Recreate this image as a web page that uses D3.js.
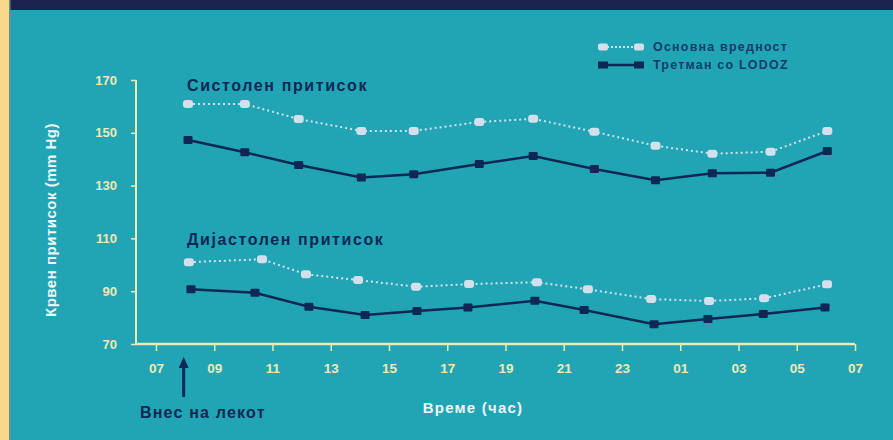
<!DOCTYPE html>
<html lang="mk">
<head>
  <meta charset="UTF-8" />
  <title>Крвен притисок</title>
  <script src="https://d3js.org/d3.v7.min.js"></script>
  <style>
    body {
      margin: 0;
      padding: 0;
      background-color: #21a5b5;
    }
    svg {
      display: block;
    }
  </style>
</head>
<body>

<svg id="chart" width="893" height="440"></svg>

<script>
  // часови (7 = 07:00, 31 = 07:00 следниот ден)
  const hourTicks = [7, 9, 11, 13, 15, 17, 19, 21, 23, 25, 27, 29, 31];
  const yTicks = [70, 90, 110, 130, 150, 170];

  const sysHours = [8.1, 10.05, 11.9, 14.05, 15.85, 18.1, 19.95, 22.05, 24.15, 26.1, 28.1, 30.05];
  const sysBase = [160.9, 160.9, 155.2, 150.7, 150.7, 154.1, 155.3, 150.4, 145.1, 142.1, 142.8, 150.7];
  const sysLodoz = [147.3, 142.6, 137.8, 133.1, 134.3, 138.2, 141.2, 136.3, 132.0, 134.7, 134.9, 143.1];

  const diaBaseHours = [8.13, 10.64, 12.15, 13.94, 15.93, 17.75, 20.08, 21.83, 24.0, 25.99, 27.88, 30.04];
  const diaBase = [101.0, 102.1, 96.4, 94.2, 91.7, 92.7, 93.4, 90.7, 87.0, 86.3, 87.3, 92.6];
  const diaLodozHours = [8.2, 10.4, 12.25, 14.18, 15.96, 17.71, 20.01, 21.7, 24.1, 25.95, 27.85, 29.97];
  const diaLodoz = [90.7, 89.4, 84.1, 81.0, 82.5, 83.8, 86.4, 82.9, 77.5, 79.5, 81.4, 83.8];

  const doseHour = 7.95;

  const svg = d3.select("#chart");
  const teal = "#21a5b5";
  const navy = "#0e2754";
  const light = "#d3e0ec";
  const axisCol = "#eee9b4";
  const font = "'Liberation Sans', Arial, sans-serif";

  // позадина
  svg.append("rect").attr("width", 893).attr("height", 440).attr("fill", teal);
  svg.append("rect").attr("width", 893).attr("height", 10).attr("fill", "#1b2350");
  svg.append("rect").attr("width", 9).attr("height", 440).attr("fill", "#f8d98c");
  svg.append("rect").attr("x", 9).attr("width", 1.5).attr("height", 440).attr("fill", "#6a8f88");

  const x = d3.scaleLinear().domain([6.3, 31]).range([135.6, 855]);
  const y = d3.scaleLinear().domain([70, 170]).range([344, 80]);

  // y оска
  const yAxis = svg.append("g")
    .attr("transform", "translate(136,0)")
    .call(d3.axisLeft(y).tickValues(yTicks).tickSize(5).tickPadding(14));
  yAxis.select(".domain").attr("stroke", axisCol).attr("stroke-width", 2).attr("d", "M0,80V344");
  yAxis.selectAll(".tick line").attr("stroke", axisCol).attr("stroke-width", 1.5);
  yAxis.selectAll(".tick text")
    .attr("fill", axisCol)
    .style("font-family", font)
    .style("font-size", "13px")
    .style("font-weight", "bold");

  // x оска
  const xAxis = svg.append("g")
    .attr("transform", "translate(0,344)")
    .call(d3.axisBottom(x).tickValues(hourTicks).tickSize(7).tickPadding(12)
      .tickFormat(h => String(h % 24).padStart(2, "0")));
  xAxis.select(".domain").attr("stroke", axisCol).attr("stroke-width", 2.5)
    .attr("d", "M" + x(6.3) + ",0H" + x(31));
  xAxis.selectAll(".tick line").attr("stroke", axisCol).attr("stroke-width", 1.5);
  xAxis.selectAll(".tick text")
    .attr("fill", axisCol)
    .style("font-family", font)
    .style("font-size", "13.5px")
    .style("font-weight", "bold");

  const series = [
    { hours: sysHours, values: sysBase, kind: "base" },
    { hours: sysHours, values: sysLodoz, kind: "lodoz" },
    { hours: diaBaseHours, values: diaBase, kind: "base" },
    { hours: diaLodozHours, values: diaLodoz, kind: "lodoz" }
  ];

  const line = d3.line().x(d => x(d[0])).y(d => y(d[1]));

  series.forEach(s => {
    const pts = s.hours.map((h, i) => [h, s.values[i]]);
    const g = svg.append("g");
    if (s.kind === "base") {
      g.append("path")
        .attr("d", line(pts))
        .attr("fill", "none")
        .attr("stroke", light)
        .attr("stroke-width", 2)
        .attr("stroke-dasharray", "2,3");
      g.selectAll("rect")
        .data(pts)
        .enter().append("rect")
        .attr("x", d => x(d[0]) - 5)
        .attr("y", d => y(d[1]) - 4)
        .attr("width", 10)
        .attr("height", 8)
        .attr("rx", 3)
        .attr("fill", light);
    } else {
      g.append("path")
        .attr("d", line(pts))
        .attr("fill", "none")
        .attr("stroke", navy)
        .attr("stroke-width", 2.5);
      g.selectAll("rect")
        .data(pts)
        .enter().append("rect")
        .attr("x", d => x(d[0]) - 4.5)
        .attr("y", d => y(d[1]) - 4)
        .attr("width", 9)
        .attr("height", 8)
        .attr("rx", 1)
        .attr("fill", navy);
    }
  });

  // наслови на групите
  svg.append("text")
    .attr("x", 187).attr("y", 91)
    .attr("fill", navy)
    .style("font-family", font)
    .style("font-size", "16px")
    .style("font-weight", "bold")
    .style("letter-spacing", "1.6px")
    .text("Систолен притисок");
  svg.append("text")
    .attr("x", 187).attr("y", 245)
    .attr("fill", navy)
    .style("font-family", font)
    .style("font-size", "16px")
    .style("font-weight", "bold")
    .style("letter-spacing", "1.6px")
    .text("Дијастолен притисок");

  // наслови на оските
  svg.append("text")
    .attr("transform", "translate(56,220) rotate(-90)")
    .attr("text-anchor", "middle")
    .attr("fill", "#eef6f8")
    .style("font-family", font)
    .style("font-size", "15px")
    .style("font-weight", "bold")
    .style("letter-spacing", "0.5px")
    .text("Крвен притисок (mm Hg)");
  svg.append("text")
    .attr("x", 473).attr("y", 413)
    .attr("text-anchor", "middle")
    .attr("fill", "#eef6f8")
    .style("font-family", font)
    .style("font-size", "15px")
    .style("font-weight", "bold")
    .style("letter-spacing", "1.2px")
    .text("Време (час)");

  // стрелка за внес на лекот
  const ax = x(doseHour);
  svg.append("line")
    .attr("x1", ax).attr("x2", ax)
    .attr("y1", 366).attr("y2", 397)
    .attr("stroke", navy).attr("stroke-width", 3);
  svg.append("path")
    .attr("d", `M${ax - 5},368L${ax},357L${ax + 5},368Z`)
    .attr("fill", navy);
  svg.append("text")
    .attr("x", 140).attr("y", 418)
    .attr("fill", navy)
    .style("font-family", font)
    .style("font-size", "16px")
    .style("font-weight", "bold")
    .style("letter-spacing", "1.2px")
    .text("Внес на лекот");

  // легенда
  const legend = svg.append("g").attr("transform", "translate(603,0)");
  legend.append("line")
    .attr("x1", 0).attr("x2", 36).attr("y1", 47).attr("y2", 47)
    .attr("stroke", light).attr("stroke-width", 2).attr("stroke-dasharray", "2,2");
  [0, 36].forEach(dx => legend.append("rect")
    .attr("x", dx - 5).attr("y", 43.5).attr("width", 10).attr("height", 7).attr("rx", 2).attr("fill", light));
  legend.append("line")
    .attr("x1", 0).attr("x2", 36).attr("y1", 65).attr("y2", 65)
    .attr("stroke", navy).attr("stroke-width", 2.5);
  [0, 36].forEach(dx => legend.append("rect")
    .attr("x", dx - 5).attr("y", 61.5).attr("width", 10).attr("height", 7).attr("fill", navy));
  legend.append("text")
    .attr("x", 50).attr("y", 51)
    .attr("fill", "#183b6a")
    .style("font-family", font)
    .style("font-size", "12.5px")
    .style("font-weight", "bold")
    .style("letter-spacing", "1.2px")
    .text("Основна вредност");
  legend.append("text")
    .attr("x", 50).attr("y", 69)
    .attr("fill", "#183b6a")
    .style("font-family", font)
    .style("font-size", "12.5px")
    .style("font-weight", "bold")
    .style("letter-spacing", "1.2px")
    .text("Третман со LODOZ");
</script>

</body>
</html>
